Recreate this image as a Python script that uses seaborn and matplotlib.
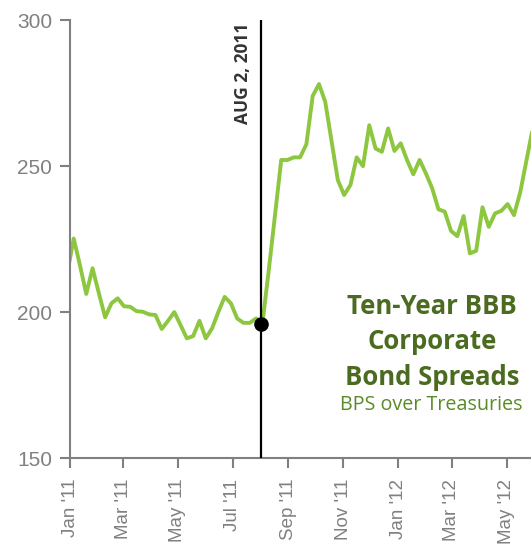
import pandas as pd
import numpy as np
import matplotlib
matplotlib.use("Agg")
import matplotlib.pyplot as plt
import matplotlib.dates as mdates
import seaborn as sns

# weekly spreads (bps over treasuries), Wednesdays starting 2010-12-29
start_date = "2010-12-29"
spreads = [213.5, 225.2, 216, 206.2, 215, 206.5, 198.2, 203, 204.7, 202,
           201.8, 200.3, 200.1, 199.2, 199, 194.2, 197, 200, 195.5, 191,
           191.8, 197, 191, 194.4, 200, 205.2, 203, 197.8, 196.3, 196.3,
           197.8, 196, 214, 233, 252.1, 252.1, 253, 253, 257.5, 274,
           278.1, 272, 258.6, 245.2, 240.1, 243.5, 253, 250, 264, 256,
           254.9, 262.9, 255.2, 257.8, 252.1, 247.2, 252.1, 247.5, 242.4, 235.2,
           234.4, 227.8, 226, 232.9, 220.1, 221, 235.9, 229.2, 233.8, 234.7,
           237, 233.2, 241, 252, 263]
event_date = "2011-08-02"
event_value = 196
event_label = "AUG 2, 2011"
title_lines = "Ten-Year BBB\nCorporate\nBond Spreads"
subtitle = "BPS over Treasuries"

df = pd.DataFrame({
    "date": pd.date_range(start_date, periods=len(spreads), freq="7D"),
    "spread": spreads,
})

sns.set_style("white")
plt.rcParams['font.family'] = ['Liberation Sans', 'DejaVu Sans']

fig = plt.figure(figsize=(5.31, 5.44), dpi=100)
ax = fig.add_axes([0.132, 0.158, 0.868, 0.805])

sns.lineplot(data=df, x="date", y="spread", color="#8dc63f", linewidth=2.8, ax=ax)

ev = pd.Timestamp(event_date)
ax.axvline(ev, color="black", linewidth=1.6, zorder=3)
ax.plot([ev], [event_value], "o", color="black", markersize=9.5, zorder=4, clip_on=False)
ax.text(ev - pd.Timedelta(days=20), 299.3, event_label, rotation=90, ha="center", va="top",
        fontsize=12.5, fontweight="bold", color="#333333", family=["Open Sans", "DejaVu Sans"])

ax.text(0.785, 0.265, title_lines, transform=ax.transAxes, ha="center", va="center",
        fontsize=18.5, fontweight="bold", color="#4b6b20", linespacing=1.4,
        family=["Open Sans", "DejaVu Sans"])
ax.text(0.783, 0.121, subtitle, transform=ax.transAxes, ha="center", va="center",
        fontsize=14.2, color="#5a8a28", family=["Open Sans", "DejaVu Sans"])

ax.set_xlim(pd.Timestamp("2011-01-01"), pd.Timestamp("2012-05-28"))
ax.set_ylim(150, 300)
ax.set_yticks([150, 200, 250, 300])
ax.xaxis.set_major_locator(mdates.MonthLocator(bymonth=[1, 3, 5, 7, 9, 11]))
ax.xaxis.set_major_formatter(mdates.DateFormatter("%b '%y"))
ax.set_xlabel("")
ax.set_ylabel("")

for s in ["top", "right"]:
    ax.spines[s].set_visible(False)
for s in ["left", "bottom"]:
    ax.spines[s].set_color("#808080")
    ax.spines[s].set_linewidth(1.5)

ax.tick_params(axis="y", length=7, width=1.5, color="#808080", labelcolor="#808080",
               labelsize=15, pad=6, left=True)
ax.tick_params(axis="x", length=7, width=1.5, color="#808080", labelcolor="#808080",
               labelsize=13.5, pad=8, bottom=True, labelrotation=90)

fig.savefig("out.png", dpi=100)
